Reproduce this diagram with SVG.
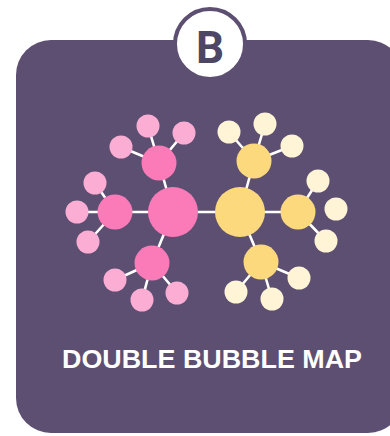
<svg xmlns="http://www.w3.org/2000/svg" width="390" height="436" viewBox="0 0 390 436">
<style>
.card{fill:#5d4f71}
.ln{stroke:#ffffff;stroke-width:2.6;stroke-linecap:round;fill:none}
.pb{fill:#fb7ab8}
.pm{fill:#fb7ab8}
.ps{fill:#fcadd3}
.yb{fill:#fcd97d}
.ym{fill:#fcd97d}
.ys{fill:#fff4d6}
.title{font-family:"Liberation Sans",Arial,sans-serif;font-weight:bold;font-size:25px;fill:#ffffff}
.badge{font-family:Roboto,"Liberation Sans",sans-serif;font-weight:bold;font-size:44px;fill:#4d4664}
</style>
<rect id="card" class="card" x="16" y="40" width="387" height="393" rx="35" ry="35"/>
<g id="badge">
<circle cx="210" cy="44" r="35" fill="#ffffff" stroke="#5d4f71" stroke-width="4"/>
<text class="badge" x="210" y="63.3" text-anchor="middle">B</text>
</g>
<g id="connectors">
<line class="ln" x1="173" y1="212" x2="240" y2="212"/>
<line class="ln" x1="173" y1="212" x2="159" y2="163"/>
<line class="ln" x1="173" y1="212" x2="115" y2="212"/>
<line class="ln" x1="173" y1="212" x2="152" y2="263"/>
<line class="ln" x1="159" y1="163" x2="148" y2="126"/>
<line class="ln" x1="159" y1="163" x2="184" y2="133"/>
<line class="ln" x1="159" y1="163" x2="121" y2="147"/>
<line class="ln" x1="115" y1="212" x2="95" y2="183"/>
<line class="ln" x1="115" y1="212" x2="77" y2="212"/>
<line class="ln" x1="115" y1="212" x2="88" y2="242"/>
<line class="ln" x1="152" y1="263" x2="115" y2="280"/>
<line class="ln" x1="152" y1="263" x2="142" y2="300"/>
<line class="ln" x1="152" y1="263" x2="177" y2="293"/>
<line class="ln" x1="240" y1="212" x2="254" y2="161"/>
<line class="ln" x1="240" y1="212" x2="298" y2="212"/>
<line class="ln" x1="240" y1="212" x2="261" y2="262"/>
<line class="ln" x1="254" y1="161" x2="229" y2="132"/>
<line class="ln" x1="254" y1="161" x2="265" y2="124"/>
<line class="ln" x1="254" y1="161" x2="292" y2="146"/>
<line class="ln" x1="298" y1="212" x2="318" y2="181"/>
<line class="ln" x1="298" y1="212" x2="326" y2="241"/>
<line class="ln" x1="261" y1="262" x2="299" y2="278"/>
<line class="ln" x1="261" y1="262" x2="272" y2="299"/>
<line class="ln" x1="261" y1="262" x2="236" y2="292"/>
</g>
<g id="pink-center"><circle class="pb" cx="173" cy="212" r="25"/></g>
<g id="pink-top"><circle class="pm" cx="159" cy="163" r="17.5"/></g>
<g id="pink-left"><circle class="pm" cx="115" cy="212" r="17.5"/></g>
<g id="pink-bottom"><circle class="pm" cx="152" cy="263" r="17.5"/></g>
<g id="pink-small">
<circle class="ps" cx="148" cy="126" r="11.5"/>
<circle class="ps" cx="184" cy="133" r="11.5"/>
<circle class="ps" cx="121" cy="147" r="11.5"/>
<circle class="ps" cx="95" cy="183" r="11.5"/>
<circle class="ps" cx="77" cy="212" r="11.5"/>
<circle class="ps" cx="88" cy="242" r="11.5"/>
<circle class="ps" cx="115" cy="280" r="11.5"/>
<circle class="ps" cx="142" cy="300" r="11.5"/>
<circle class="ps" cx="177" cy="293" r="11.5"/>
</g>
<g id="yellow-center"><circle class="yb" cx="240" cy="212" r="25"/></g>
<g id="yellow-top"><circle class="ym" cx="254" cy="161" r="17.5"/></g>
<g id="yellow-right"><circle class="ym" cx="298" cy="212" r="17.5"/></g>
<g id="yellow-bottom"><circle class="ym" cx="261" cy="262" r="17.5"/></g>
<g id="yellow-small">
<circle class="ys" cx="229" cy="132" r="11.5"/>
<circle class="ys" cx="265" cy="124" r="11.5"/>
<circle class="ys" cx="292" cy="146" r="11.5"/>
<circle class="ys" cx="318" cy="181" r="11.5"/>
<circle class="ys" cx="336" cy="209" r="11.5"/>
<circle class="ys" cx="326" cy="241" r="11.5"/>
<circle class="ys" cx="299" cy="278" r="11.5"/>
<circle class="ys" cx="272" cy="299" r="11.5"/>
<circle class="ys" cx="236" cy="292" r="11.5"/>
</g>
<g id="title">
<text class="title" x="62" y="368.3" textLength="300" lengthAdjust="spacingAndGlyphs">DOUBLE BUBBLE MAP</text>
</g>
</svg>
